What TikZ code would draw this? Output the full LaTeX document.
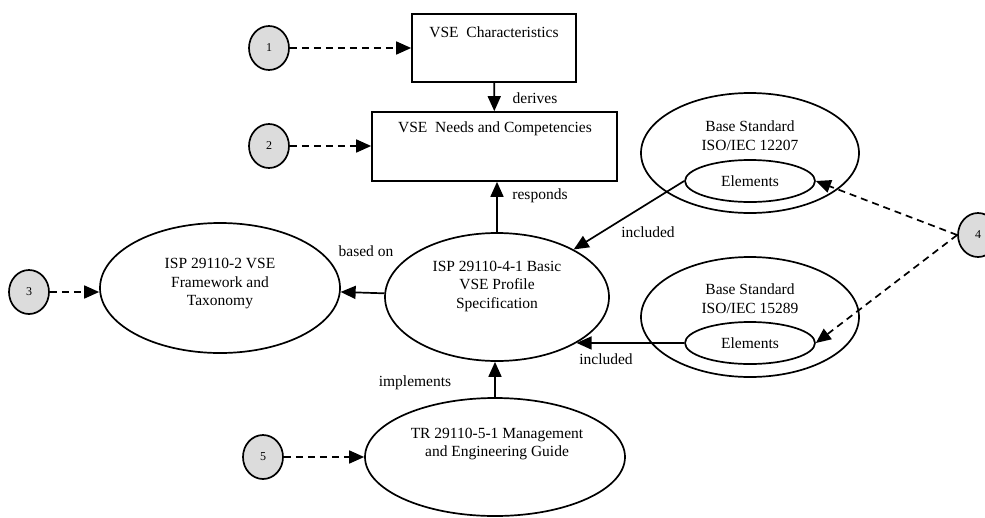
\documentclass[tikz,border=0pt]{standalone}
\usepackage{fontspec}
\setmainfont{Liberation Serif}
\usetikzlibrary{arrows.meta,shapes.geometric}
\definecolor{numgray}{HTML}{DCDCDC}
\begin{document}
\begin{tikzpicture}[x=1pt,y=-1pt,
  every node/.style={font=\fontsize{15.5}{18.5}\selectfont},
  box/.style={draw, line width=1.7pt, inner sep=0pt},
  ell/.style={draw, ellipse, line width=1.7pt, inner sep=0pt},
  num/.style={draw, ellipse, fill=numgray, line width=1.7pt, minimum width=40pt, minimum height=44pt, inner sep=0pt, font=\fontsize{12}{14}\selectfont},
  arr/.style={line width=1.7pt, -{Triangle[length=15pt,width=13pt]}},
  dasharr/.style={arr, dash pattern=on 7pt off 5pt},
  txt/.style={align=center, inner sep=0pt},
]
\clip (0,0) rectangle (985,517);
% numbered circles
\node[num] (c1) at (269,48) {1};
\node[num] (c2) at (269,146) {2};
\node[num] (c3) at (29,292) {3};
\node[num] (c4) at (978,235) {4};
\node[num] (c5) at (263,457) {5};
% boxes
\node[box, minimum width=164pt, minimum height=68pt] (b1) at (494,48) {};
\node[txt] (b1t) at (494,32) {VSE\ \ Characteristics};
\node[box, minimum width=245pt, minimum height=69pt] (b2) at (494.5,146.5) {};
\node[txt] (b2t) at (495,129) {VSE\ \ Needs and Competencies};
% ellipses
\node[ell, minimum width=224pt, minimum height=128pt] (e0) at (497,297) {};
\node[txt] (e0t) at (497,286) {ISP 29110-4-1 Basic\\VSE Profile\\Specification};
\node[ell, minimum width=240pt, minimum height=130pt] (e3) at (220,288) {};
\node[txt] (e3t) at (220,284) {ISP 29110-2 VSE\\Framework and\\Taxonomy};
\node[ell, minimum width=260pt, minimum height=118pt] (e5) at (495,457) {};
\node[txt] (e5t) at (497,444) {TR 29110-5-1 Management\\and Engineering Guide};
\node[ell, minimum width=218pt, minimum height=120pt] (s1) at (750,153) {};
\node[txt] (s1t) at (750,135.5) {Base Standard\\ISO/IEC 12207};
\node[ell, minimum width=130pt, minimum height=42pt] (i1) at (750,181) {Elements};
\node[ell, minimum width=218pt, minimum height=120pt] (s2) at (750,317) {};
\node[txt] (s2t) at (750,298.5) {Base Standard\\ISO/IEC 15289};
\node[ell, minimum width=130pt, minimum height=42pt] (i2) at (750,343) {Elements};
% labels
\node[txt] (lder) at (535,98) {derives};
\node[txt] (lres) at (540,196) {responds};
\node[txt] (lbas) at (366,251) {based on};
\node[txt] (linc1) at (648,232) {included};
\node[txt] (linc2) at (606,359) {included};
\node[txt] (limp) at (415,383) {implements};
% connectors
\draw[dasharr] (c1.east) -- (c1.east -| b1.west);
\draw[dasharr] (c2.east) -- (c2.east -| b2.west);
\draw[dasharr] (c3.east) -- (c3.east -| e3.west);
\draw[dasharr] (c5.east) -- (c5.east -| e5.west);
\draw[dasharr] (c4.west) -- (i1.east);
\draw[dasharr] (c4.west) -- (i2.east);
\draw[arr] (b1) -- (b2);
\draw[arr] (e0.north) -- (e0.north |- b2.south);
\draw[arr] (e0) -- (e3);
\draw[arr] (e5.north) -- (e5.north |- e0.south);
\draw[arr] (i1.west) -- (e0);
\draw[arr] (i2.west) -- (e0.-30.5);
\end{tikzpicture}
\end{document}
